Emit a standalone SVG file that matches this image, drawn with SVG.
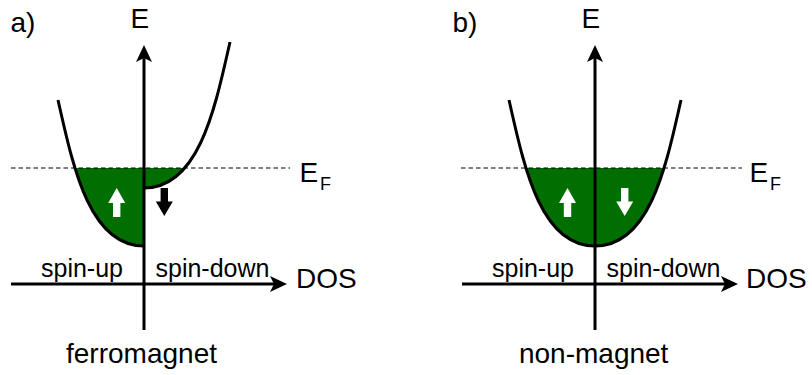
<svg xmlns="http://www.w3.org/2000/svg" width="812" height="375" viewBox="0 0 812 375">
<style>
text{font-family:"Liberation Sans",Arial,sans-serif;fill:#000}
.big{font-size:28px}
.mid{font-size:25px}
.sub{font-size:18px}
.axis{stroke:#000;stroke-width:3;fill:none}
.curve{stroke:#000;stroke-width:3;fill:none}
.fill{fill:#006e00;stroke:none}
.ef{stroke:#000;stroke-width:1;stroke-dasharray:4.5 3;fill:none}
.wa{fill:#fff}
.ba{fill:#000}
</style>
<defs>
<marker id="ah" markerUnits="userSpaceOnUse" viewBox="0 0 17 16" refX="4" refY="8" markerWidth="17" markerHeight="16" orient="auto">
<path d="M0,0 L17,8 L0,16 L4,8 Z" fill="#000"/>
</marker>
<clipPath id="below"><rect x="0" y="168" width="812" height="120"/></clipPath>
</defs>

<g id="panel-a">
<g id="fill-a">
<path class="fill" clip-path="url(#below)" d="M58,100 C73,166.2 89,246 144,246 L144,100 Z"/>
<path class="fill" clip-path="url(#below)" d="M144,188 C199,188 215,108.2 230,42 L144,42 Z"/>
</g>
<line class="ef" x1="11" y1="168" x2="290" y2="168"/>
<path id="dos-up-a" class="curve" d="M58,100 C73,166.2 89,246 144,246"/>
<path id="dos-down-a" class="curve" d="M144,188 C199,188 215,108.2 230,42"/>
<g id="axes-a">
<line class="axis" x1="144" y1="330" x2="144" y2="58" marker-end="url(#ah)"/>
<line class="axis" x1="11" y1="284" x2="274" y2="284" marker-end="url(#ah)"/>
</g>
<polygon id="up-a" class="wa" points="116.7,188 125.2,203 120.4,203 120.4,217 113,217 113,203 108.2,203"/>
<polygon id="down-a" class="ba" points="164.3,216 172.8,201.5 168,201.5 168,188 160.6,188 160.6,201.5 155.8,201.5"/>
<text class="big" x="10.5" y="32">a)</text>
<text class="big" x="130.5" y="27.7">E</text>
<text class="big" x="299.5" y="181.7">E</text>
<text class="sub" x="320" y="190">F</text>
<text class="big" x="296" y="288">DOS</text>
<text class="mid" x="41" y="277">spin-up</text>
<text class="mid" x="155.5" y="277">spin-down</text>
<text class="big" x="141.5" y="363" text-anchor="middle">ferromagnet</text>
</g>

<g id="panel-b">
<path id="fill-b" class="fill" clip-path="url(#below)" d="M509,100 C524,166.2 540,246 595,246 C650,246 666,166.2 681,100 Z"/>
<line class="ef" x1="461" y1="168" x2="742" y2="168"/>
<path id="dos-b" class="curve" d="M509,100 C524,166.2 540,246 595,246 C650,246 666,166.2 681,100"/>
<g id="axes-b">
<line class="axis" x1="595" y1="330" x2="595" y2="58" marker-end="url(#ah)"/>
<line class="axis" x1="462" y1="284" x2="725" y2="284" marker-end="url(#ah)"/>
</g>
<polygon id="up-b" class="wa" points="567.5,188 576,203 571.2,203 571.2,217 563.8,217 563.8,203 559,203"/>
<polygon id="down-b" class="wa" points="624.7,216 633.2,201.5 628.4,201.5 628.4,188 621,188 621,201.5 616.2,201.5"/>
<text class="big" x="452.5" y="32">b)</text>
<text class="big" x="581.5" y="27.7">E</text>
<text class="big" x="749.5" y="181.7">E</text>
<text class="sub" x="770" y="190">F</text>
<text class="big" x="746" y="288">DOS</text>
<text class="mid" x="492" y="277">spin-up</text>
<text class="mid" x="606.5" y="277">spin-down</text>
<text class="big" x="593.7" y="363" text-anchor="middle">non-magnet</text>
</g>
</svg>
